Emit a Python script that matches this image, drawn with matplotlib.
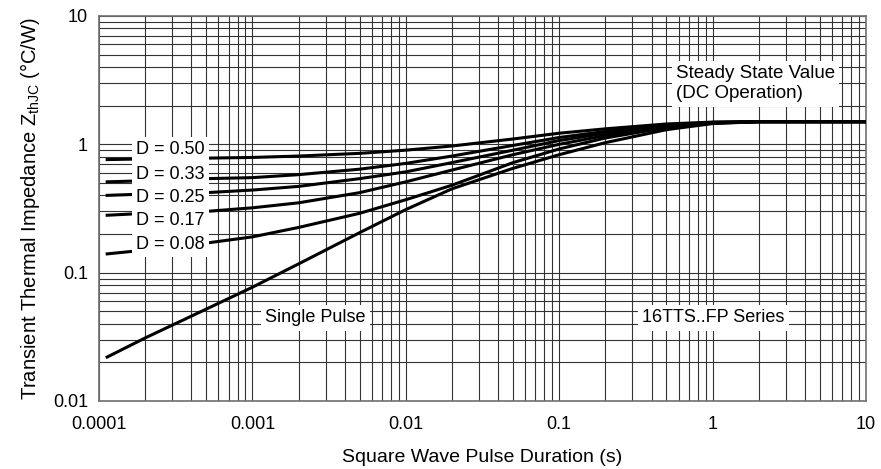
import matplotlib.pyplot as plt
from matplotlib.ticker import LogLocator, NullFormatter

plt.rcParams['font.family'] = ['Liberation Sans', 'DejaVu Sans']

# pulse duration (s) and Zth values
t = [1.13e-4, 2e-4, 5e-4, 1e-3, 2e-3, 5e-3, 1e-2, 2e-2, 5e-2, 0.1, 0.2, 0.5, 1, 2, 10]
z_d50 = [0.76, 0.77, 0.78, 0.79, 0.81, 0.85, 0.90, 0.97, 1.10, 1.22, 1.32, 1.44, 1.49, 1.50, 1.50]
z_d33 = [0.51, 0.52, 0.54, 0.55, 0.58, 0.64, 0.71, 0.81, 0.98, 1.13, 1.26, 1.41, 1.48, 1.50, 1.50]
z_d25 = [0.40, 0.41, 0.42, 0.44, 0.47, 0.54, 0.61, 0.72, 0.90, 1.07, 1.22, 1.39, 1.48, 1.50, 1.50]
z_d17 = [0.28, 0.29, 0.30, 0.32, 0.35, 0.42, 0.51, 0.63, 0.83, 1.00, 1.17, 1.37, 1.47, 1.50, 1.50]
z_d08 = [0.14, 0.15, 0.17, 0.19, 0.225, 0.29, 0.37, 0.48, 0.72, 0.92, 1.12, 1.35, 1.46, 1.50, 1.50]
z_single = [0.022, 0.031, 0.052, 0.077, 0.117, 0.205, 0.31, 0.45, 0.65, 0.83, 1.03, 1.30, 1.45, 1.50, 1.50]

duty_labels = ['D = 0.50', 'D = 0.33', 'D = 0.25', 'D = 0.17', 'D = 0.08']
duty_curves = [z_d50, z_d33, z_d25, z_d17, z_d08]
label_y = [0.904, 0.577, 0.382, 0.257, 0.167]

fig = plt.figure(figsize=(8.81, 4.69), dpi=100)
ax = fig.add_axes([0.1124, 0.145, 0.8706, 0.821])

for z in duty_curves:
    ax.plot(t, z, color='black', lw=2.2, zorder=3)
ax.plot(t, z_single, color='black', lw=2.2, zorder=3)

ax.set_xscale('log')
ax.set_yscale('log')
ax.set_xlim(1e-4, 10)
ax.set_ylim(0.01, 10)

for axis in (ax.xaxis, ax.yaxis):
    axis.set_major_locator(LogLocator(base=10, numticks=20))
    axis.set_minor_locator(LogLocator(base=10, subs=range(2, 10), numticks=20))
    axis.set_minor_formatter(NullFormatter())
ax.set_xticks([1e-4, 1e-3, 1e-2, 0.1, 1, 10])
ax.set_xticklabels(['0.0001', '0.001', '0.01', '0.1', '1', '10'])
ax.set_yticks([0.01, 0.1, 1, 10])
ax.set_yticklabels(['0.01', '0.1', '1', '10'])
ax.grid(True, which='both', color='#333333', lw=0.8, zorder=1)
ax.tick_params(which='both', length=0, labelsize=13)
ax.tick_params(axis='x', pad=11)
ax.tick_params(axis='y', pad=8)
for s in ax.spines.values():
    s.set_color('#707070')
    s.set_linewidth(1.2)

ax.set_xlabel('Square Wave Pulse Duration (s)', fontsize=14, labelpad=11)
ax.set_ylabel(r'Transient Thermal Impedance Z$_\mathregular{thJC}$ (°C/W)', fontsize=14.5, labelpad=8)

box = dict(facecolor='white', edgecolor='none', pad=3)
for lab, yv in zip(duty_labels, label_y):
    ax.text(1.75e-4, yv, lab, fontsize=13, va='center', ha='left', bbox=box, zorder=4)

ax.text(1.21e-3, 0.0444, 'Single Pulse', fontsize=13, va='center', ha='left', bbox=box, zorder=4)
ax.text(0.347, 0.0444, '16TTS..FP Series', fontsize=13, va='center', ha='left', bbox=box, zorder=4)
ax.text(0.577, 2.96, 'Steady State Value\n(DC Operation)', fontsize=13.5, va='center', ha='left',
        linespacing=1.25, bbox=box, zorder=4)

fig.savefig('out.png', dpi=100)
